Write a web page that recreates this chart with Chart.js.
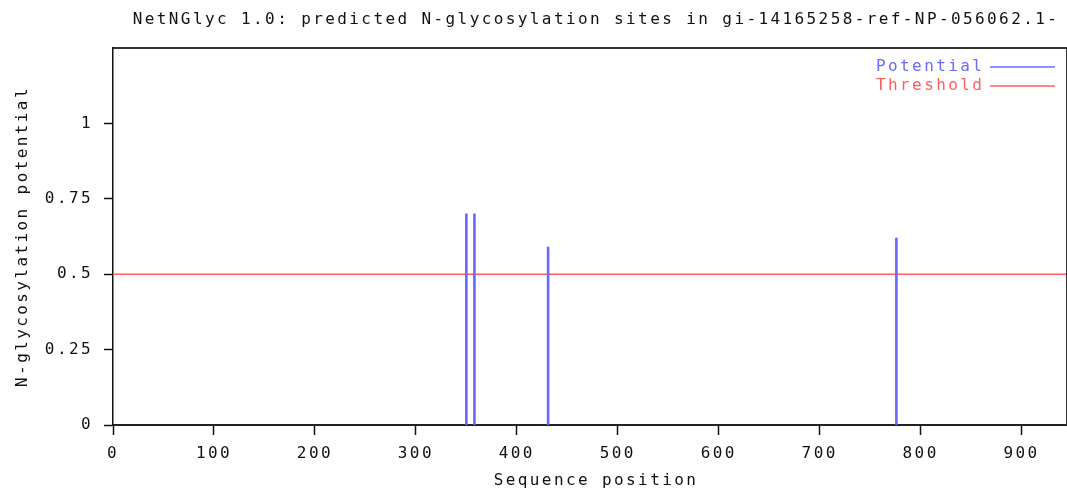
<!DOCTYPE html>
<html>
<head>
<meta charset="utf-8">
<script src="https://cdn.jsdelivr.net/npm/chart.js@4"></script>
<style>
    html, body { margin: 0; padding: 0; background: #fff; }
    #wrap { width: 1067px; height: 488px; position: relative; }
</style>
</head>
<body>
<div id="wrap"><canvas id="glycChart"></canvas></div>
<script>
// Predicted sites (sequence position) and their potential
const sitePositions = [350, 358, 431, 776];
const sitePotentials = [0.70, 0.70, 0.59, 0.62];
const thresholdValue = 0.5;
const sequenceLength = 944;

const chartTitle = 'NetNGlyc 1.0: predicted N-glycosylation sites in gi-14165258-ref-NP-056062.1-';
const legendLabels = ['Potential', 'Threshold'];

const blue = '#6a6aff';
const red = '#ff5c5c';
const monoFont = '"DejaVu Sans Mono", "Liberation Mono", monospace';
const spacing = '2.4px';

Chart.defaults.font.family = monoFont;
Chart.defaults.font.size = 16;
Chart.defaults.color = '#111';

// Wide letter spacing like the old gnuplot-style font
const spacingPlugin = {
    id: 'spacing',
    beforeUpdate(chart) { chart.ctx.letterSpacing = spacing; },
    beforeDraw(chart) { chart.ctx.letterSpacing = spacing; }
};

// Frame, title, legend and x axis title
const decorPlugin = {
    id: 'decor',
    afterDraw(chart) {
        const ctx = chart.ctx;
        const a = chart.chartArea;
        ctx.save();
        ctx.letterSpacing = spacing;
        ctx.strokeStyle = '#333';
        ctx.lineWidth = 2;
        ctx.beginPath();
        ctx.moveTo(a.left, a.top);
        ctx.lineTo(a.right + 1, a.top);
        ctx.lineTo(a.right + 1, a.bottom);
        ctx.stroke();

        ctx.font = '16px ' + monoFont;
        ctx.textBaseline = 'middle';
        ctx.textAlign = 'center';
        ctx.fillStyle = '#111';
        ctx.fillText(chartTitle, 596, 20);
        ctx.fillText('Sequence position', 596, 481);

        const colors = [blue, red];
        ctx.textAlign = 'left';
        legendLabels.forEach((label, i) => {
            const y = 67 + i * 19;
            ctx.fillStyle = colors[i];
            ctx.fillText(label, 876, y);
            ctx.strokeStyle = colors[i];
            ctx.lineWidth = 1.5;
            ctx.beginPath();
            ctx.moveTo(990, y);
            ctx.lineTo(1055, y);
            ctx.stroke();
        });
        ctx.restore();
    }
};

const ctx = document.getElementById('glycChart').getContext('2d');
const chart = new Chart(ctx, {
    type: 'bar',
    data: {
        datasets: [{
            label: legendLabels[0],
            data: sitePositions.map((x, i) => ({ x: x, y: sitePotentials[i] })),
            backgroundColor: blue,
            barThickness: 2,
            order: 1
        }, {
            type: 'line',
            label: legendLabels[1],
            data: [{ x: 0, y: thresholdValue }, { x: sequenceLength, y: thresholdValue }],
            borderColor: red,
            borderWidth: 1.5,
            pointRadius: 0,
            order: 2
        }]
    },
    options: {
        responsive: true,
        maintainAspectRatio: false,
        animation: false,
        layout: { padding: { top: 48, right: 1, left: 0, bottom: 0 } },
        plugins: {
            legend: { display: false },
            title: { display: false },
            tooltip: { enabled: false }
        },
        scales: {
            x: {
                type: 'linear',
                min: 0,
                max: sequenceLength,
                offset: false,
                grid: { display: true, drawOnChartArea: false, offset: false, tickLength: 10, color: '#111', tickWidth: 1.5 },
                border: { display: true, color: '#222', width: 2 },
                ticks: { stepSize: 100, includeBounds: false, padding: 9, maxRotation: 0, autoSkip: false },
                afterFit(scale) { scale.height = 63; }
            },
            y: {
                min: 0,
                max: 1.25,
                grid: { display: true, drawOnChartArea: false, tickLength: 9, color: '#111', tickWidth: 1.5 },
                border: { display: true, color: '#111', width: 1.5 },
                ticks: { stepSize: 0.25, includeBounds: false, padding: 11, callback: v => String(v) },
                afterBuildTicks(scale) { scale.ticks = scale.ticks.filter(t => t.value <= 1); },
                title: { display: true, text: 'N-glycosylation potential', padding: { top: 13, bottom: 0 } },
                afterFit(scale) { scale.width = 113; }
            }
        }
    },
    plugins: [spacingPlugin, decorPlugin]
});
</script>
</body>
</html>
